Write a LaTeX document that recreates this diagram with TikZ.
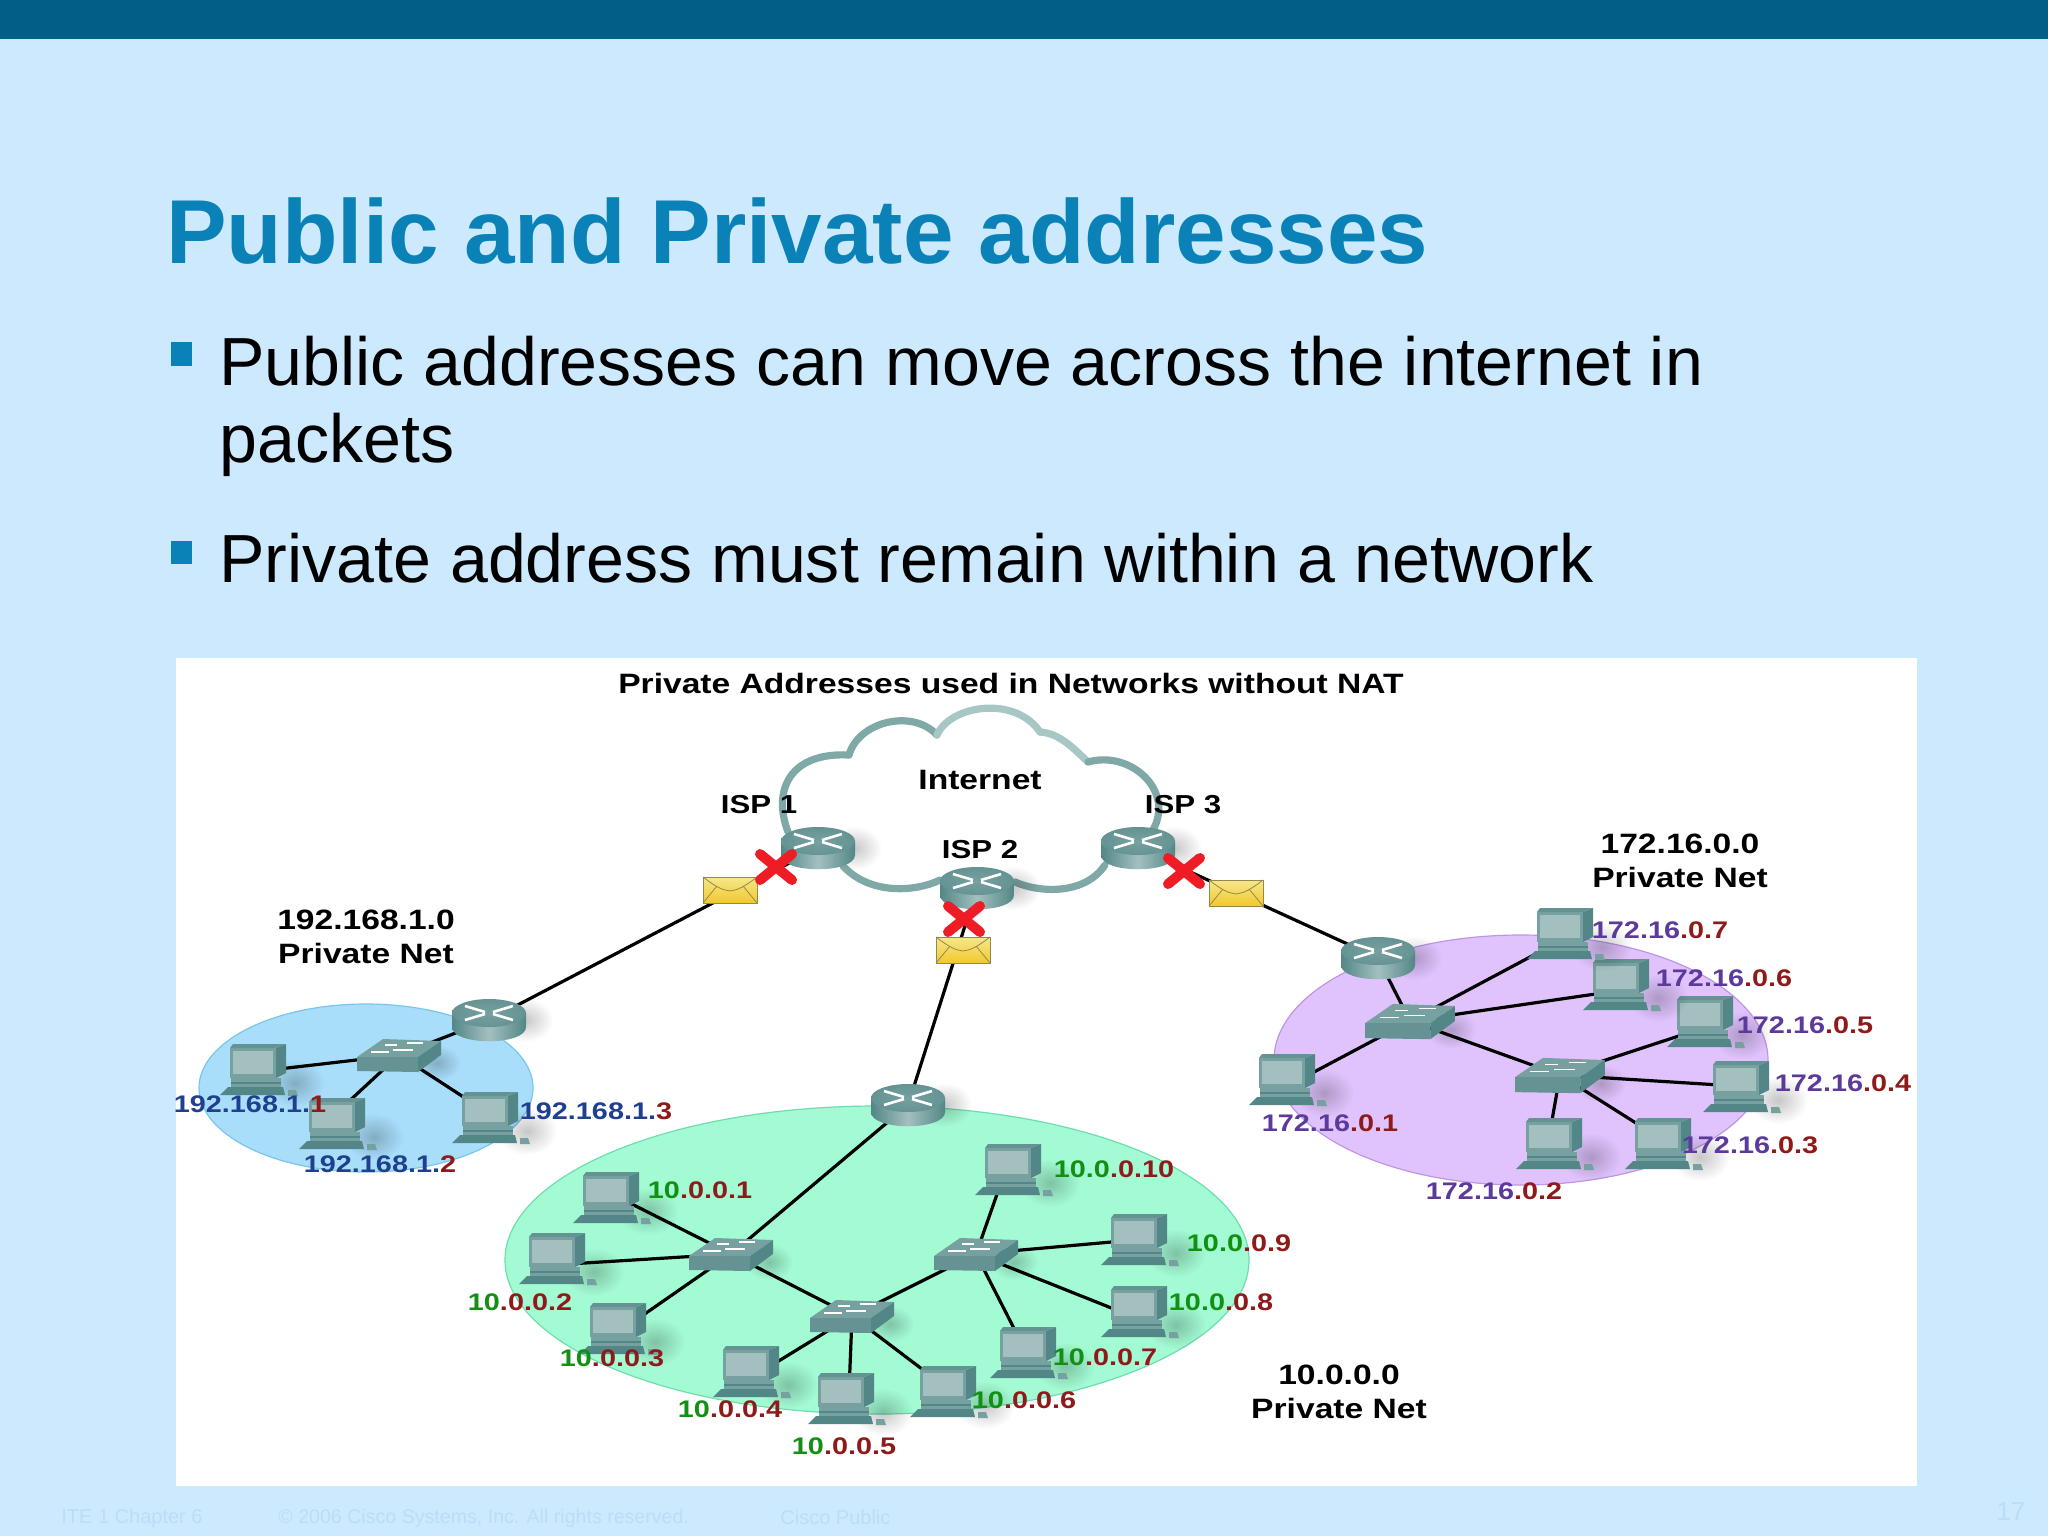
\documentclass[tikz,border=0pt]{standalone}
\usepackage{fontspec}
\usepackage{xcolor}
\usetikzlibrary{fadings}
\setmainfont{Liberation Sans}
\newfontfamily\diagramfont[FakeStretch=1.2]{Liberation Sans}
\definecolor{slideback}{HTML}{CCE9FE}
\definecolor{slidebar}{HTML}{005E87}
\definecolor{slidetitle}{HTML}{0A82B8}
\definecolor{slidefoot}{HTML}{BBDDF6}
\definecolor{cloudteal}{HTML}{7FA9A7}
\definecolor{cloudpale}{HTML}{A6C7C4}
\definecolor{devdark}{HTML}{538686}
\definecolor{devmid}{HTML}{77A0A0}
\definecolor{devfront}{HTML}{659393}
\definecolor{devlight}{HTML}{A3C0BF}
\definecolor{mailtop}{HTML}{F6E78C}
\definecolor{mailbottom}{HTML}{F2C92C}
\definecolor{mailedge}{HTML}{94884E}
\definecolor{crossred}{HTML}{EE1C25}
\definecolor{bluezone}{HTML}{A9DEFB}
\definecolor{blueedge}{HTML}{78C6EE}
\definecolor{greenzone}{HTML}{A3FBD3}
\definecolor{greenedge}{HTML}{6EDDB0}
\definecolor{purplezone}{HTML}{E0C3FD}
\definecolor{purpleedge}{HTML}{BE96E4}
\definecolor{blueip}{HTML}{1F3F8F}
\definecolor{greenip}{HTML}{129012}
\definecolor{purpleip}{HTML}{5B3A9B}
\definecolor{redip}{HTML}{8F1A1A}
\tikzfading[name=softdot, inner color=transparent!0, outer color=transparent!100]
\tikzset{
	bodytext/.style={anchor=base west, inner sep=0pt, font=\fontsize{34.05}{34.05}\selectfont},
	footertext/.style={anchor=west, inner sep=0pt, text=slidefoot, font=\fontsize{10}{10}\selectfont},
	headtext/.style={inner sep=0pt, font=\diagramfont\bfseries\fontsize{14}{14}\selectfont},
	ispname/.style={inner sep=0pt, font=\diagramfont\bfseries\fontsize{13}{13}\selectfont},
	iplabel/.style={inner sep=0pt, font=\diagramfont\bfseries\fontsize{12}{12}\selectfont},
	netlink/.style={draw=black, line width=1.6pt},
	netzone/.style={line width=0.6pt},
	softshadow/.style={black, fill opacity=0.22, path fading=softdot},
	netpc/.pic={
		\fill[softshadow] (42,20) ellipse [x radius=30, y radius=24];
		\fill[devdark] (-33,32) -- (-25,24) -- (30,24) -- (32,32) -- cycle;
		\fill[devmid] (-22,15) rectangle (28,24);
		\fill[devdark] (-22,19) rectangle (28,21);
		\fill[devmid] (35,27) -- (43,27) -- (45,33) -- (35,33) -- cycle;
		\fill[devdark] (23,-15) -- (33,-19) -- (33,10) -- (23,15) -- cycle;
		\fill[devfront] (-23,-15) -- (-20,-19) -- (33,-19) -- (23,-15) -- cycle;
		\fill[devmid] (-23,-15) rectangle (23,15);
		\fill[devlight] (-20,-12) rectangle (20,11);
	},
	netrouter/.pic={
		\fill[softshadow] (36,0) ellipse [x radius=28, y radius=22];
		\shade[left color=devdark, right color=devdark, middle color=devlight] (-37,-7) -- (-37,7) .. controls (-37,26) and (37,26) .. (37,7) -- (37,-7) -- cycle;
		\shade[inner color=devmid, outer color=devfront] (0,-7) ellipse [x radius=37, y radius=14];
		\draw[white, line width=1.3pt] (-24,-14) -- (-4,-8) (24,-14) -- (4,-8) (-24,0) -- (-4,-6) (24,0) -- (4,-6);
	},
	netswitch/.pic={
		\fill[softshadow] (38,8) ellipse [x radius=24, y radius=18];
		\fill[devmid] (-42,2) -- (-16,-16) -- (42,-14) -- (19,2) -- cycle;
		\fill[devfront] (-42,2) -- (19,2) -- (19,17) -- (-42,16) -- cycle;
		\fill[devdark] (19,2) -- (42,-14) -- (42,0) -- (19,17) -- cycle;
		\draw[white, line width=0.6pt] (-28,-3) -- (-10,-3) (-14,-10) -- (-2,-10) (-6,-5) -- (14,-5) (8,-12) -- (24,-12);
	},
	netmail/.pic={
		\shade[top color=mailtop, bottom color=mailbottom, draw=mailedge, line width=0.5pt] (-27,-13) rectangle (27,13);
		\draw[mailedge, line width=0.4pt] (-27,-13) .. controls (-14,-3) and (-8,0) .. (0,1) .. controls (8,0) and (14,-3) .. (27,-13);
		\draw[mailedge, line width=0.4pt] (-27,13) -- (-13,-4) (27,13) -- (13,-4);
	},
	redcross/.pic={
		\draw[crossred, line width=5pt, line cap=round] (-16,-13) -- (16,13) (-16,13) -- (16,-13);
	}
}
\begin{document}
\begin{tikzpicture}[x=0.5pt, y=-0.5pt]
	\useasboundingbox (0,0) rectangle (2048,1536);
	\fill[slideback] (0,0) rectangle (2048,1536);
	\fill[slidebar] (0,0) rectangle (2048,39);
	\node[anchor=base west, inner sep=0pt, text=slidetitle, font=\bfseries\fontsize{45.4}{45.4}\selectfont] (title) at (166,263) {Public and Private addresses};
	\fill[slidetitle] (171,342) rectangle (192,366);
	\node[bodytext] (lineA) at (219,385) {Public addresses can move across the internet in};
	\node[bodytext] (lineB) at (219,462) {packets};
	\fill[slidetitle] (171,541) rectangle (192,564);
	\node[bodytext] (lineC) at (219,582) {Private address must remain within a network};
	\node[footertext] (footA) at (61,1518) {ITE 1 Chapter 6};
	\node[footertext, font=\fontsize{9.8}{9.8}\selectfont] (footB) at (278,1518) {© 2006 Cisco Systems, Inc. All rights reserved.};
	\node[footertext] (footC) at (780,1517) {Cisco Public};
	\node[footertext, font=\fontsize{13}{13}\selectfont] (footD) at (1996,1512) {17};
	\fill[white] (176,658) rectangle (1917,1486);

	\draw[netzone, fill=greenzone, draw=greenedge] (877,1260) ellipse [x radius=372, y radius=154];
	\draw[netzone, fill=bluezone, draw=blueedge] (366,1088) ellipse [x radius=167, y radius=84];
	\draw[netzone, fill=purplezone, draw=purpleedge] (1521,1060) ellipse [x radius=247, y radius=125];

	\draw[cloudteal, line width=3.6pt, line cap=round] (788,832) .. controls (772,790) and (790,752) .. (849,755);
	\draw[cloudteal, line width=3.6pt, line cap=round] (849,755) .. controls (858,722) and (912,708) .. (937,735);
	\draw[cloudpale, line width=3.6pt, line cap=round] (937,735) .. controls (950,705) and (1015,695) .. (1040,732);
	\draw[cloudpale, line width=3.6pt, line cap=round] (1040,732) .. controls (1060,733) and (1075,750) .. (1088,762);
	\draw[cloudteal, line width=3.6pt, line cap=round] (1088,762) .. controls (1130,750) and (1175,790) .. (1153,830);
	\draw[cloudteal, line width=3.6pt, line cap=round] (1105,865) .. controls (1085,895) and (1040,893) .. (1015,882);
	\draw[cloudteal, line width=3.6pt, line cap=round] (940,880) .. controls (915,892) and (870,895) .. (843,866);

	\coordinate (ispA) at (818,848);
	\coordinate (ispB) at (977,888);
	\coordinate (ispC) at (1138,848);
	\coordinate (routerB) at (489,1020);
	\coordinate (routerG) at (908,1105);
	\coordinate (routerP) at (1378,958);
	\coordinate (switchB) at (399,1055);
	\coordinate (switchGa) at (731,1254);
	\coordinate (switchGb) at (852,1316);
	\coordinate (switchGc) at (976,1254);
	\coordinate (switchPa) at (1410,1021);
	\coordinate (switchPb) at (1560,1075);
	\coordinate (pcBa) at (253,1063);
	\coordinate (pcBb) at (332,1117);
	\coordinate (pcBc) at (485,1111);
	\coordinate (pcGa) at (606,1191);
	\coordinate (pcGb) at (552,1252);
	\coordinate (pcGc) at (613,1322);
	\coordinate (pcGd) at (746,1365);
	\coordinate (pcGe) at (841,1392);
	\coordinate (pcGf) at (943,1385);
	\coordinate (pcGg) at (1023,1346);
	\coordinate (pcGh) at (1134,1305);
	\coordinate (pcGi) at (1134,1233);
	\coordinate (pcGj) at (1008,1163);
	\coordinate (pcPa) at (1282,1073);
	\coordinate (pcPb) at (1549,1137);
	\coordinate (pcPc) at (1658,1137);
	\coordinate (pcPd) at (1736,1080);
	\coordinate (pcPe) at (1700,1015);
	\coordinate (pcPf) at (1616,978);
	\coordinate (pcPg) at (1560,927);

	\draw[netlink] (ispA) -- (routerB);
	\draw[netlink] (ispB) -- (routerG);
	\draw[netlink] (ispC) -- (routerP);
	\draw[netlink] (routerB) -- (switchB);
	\draw[netlink] (switchB) -- ([yshift=-4.5pt]pcBa);
	\draw[netlink] (switchB) -- (pcBb);
	\draw[netlink] (switchB) -- (pcBc);
	\draw[netlink] (routerG) -- (switchGa);
	\draw[netlink] (switchGa) -- (pcGa);
	\draw[netlink] (switchGa) -- ([yshift=-6.5pt]pcGb);
	\draw[netlink] (switchGa) -- ([yshift=-7pt]pcGc);
	\draw[netlink] (switchGa) -- (switchGb);
	\draw[netlink] (switchGb) -- ([yshift=-8pt]pcGd);
	\draw[netlink] (switchGb) -- ([xshift=4pt]pcGe);
	\draw[netlink] (switchGb) -- (pcGf);
	\draw[netlink] (switchGb) -- (switchGc);
	\draw[netlink] (switchGc) -- (pcGg);
	\draw[netlink] (switchGc) -- ([yshift=-6pt]pcGh);
	\draw[netlink] (switchGc) -- ([yshift=-3.5pt]pcGi);
	\draw[netlink] (switchGc) -- (pcGj);
	\draw[netlink] (routerP) -- (switchPa);
	\draw[netlink] (switchPa) -- ([yshift=-8pt]pcPa);
	\draw[netlink] (switchPa) -- ([yshift=-6.5pt]pcPf);
	\draw[netlink] (switchPa) -- ([yshift=-7pt]pcPg);
	\draw[netlink] (switchPa) -- (switchPb);
	\draw[netlink] (switchPb) -- (pcPb);
	\draw[netlink] (switchPb) -- (pcPc);
	\draw[netlink] (switchPb) -- ([yshift=-3pt]pcPd);
	\draw[netlink] (switchPb) -- ([yshift=-7pt]pcPe);

	\foreach \n in {ispA,ispB,ispC,routerB,routerG,routerP} {
		\pic at (\n) {netrouter};
	}
	\foreach \n in {switchB,switchGa,switchGb,switchGc} {
		\pic at (\n) {netswitch};
	}
	\foreach \n in {switchPa,switchPb} {
		\pic[scale=1.07] at (\n) {netswitch};
	}
	\foreach \n in {pcBa,pcBb,pcBc,pcGa,pcGb,pcGc,pcGd,pcGe,pcGf,pcGg,pcGh,pcGi,pcGj,pcPa,pcPb,pcPc,pcPd,pcPe,pcPf,pcPg} {
		\pic at (\n) {netpc};
	}
	\pic at (730,890) {netmail};
	\pic at (963,950) {netmail};
	\pic at (1236,893) {netmail};
	\pic at (776,867) {redcross};
	\pic at (964,919) {redcross};
	\pic at (1184,871) {redcross};

	\node[headtext] (heading) at (1011,683) {Private Addresses used in Networks without NAT};
	\node[headtext] (internet) at (980,780) {Internet};
	\node[ispname] (ispAname) at (759,805) {ISP 1};
	\node[ispname] (ispBname) at (980,850) {ISP 2};
	\node[ispname] (ispCname) at (1183,805) {ISP 3};
	\node[headtext, align=center] (netP) at (1680,861) {172.16.0.0\\[3pt]Private Net};
	\node[headtext, align=center] (netB) at (366,937) {192.168.1.0\\[3pt]Private Net};
	\node[headtext, align=center] (netG) at (1339,1392) {10.0.0.0\\[3pt]Private Net};

	\node[iplabel, text=blueip] (ipBa) at (250,1104) {192.168.1.\textcolor{redip}{1}};
	\node[iplabel, text=blueip] (ipBb) at (380,1164) {192.168.1.\textcolor{redip}{2}};
	\node[iplabel, text=blueip] (ipBc) at (596,1111) {192.168.1.\textcolor{redip}{3}};
	\node[iplabel, text=greenip] (ipGa) at (700,1190) {10\textcolor{redip}{.0.0.1}};
	\node[iplabel, text=greenip] (ipGb) at (520,1302) {10\textcolor{redip}{.0.0.2}};
	\node[iplabel, text=greenip] (ipGc) at (612,1358) {10\textcolor{redip}{.0.0.3}};
	\node[iplabel, text=greenip] (ipGd) at (730,1409) {10\textcolor{redip}{.0.0.4}};
	\node[iplabel, text=greenip] (ipGe) at (844,1446) {10\textcolor{redip}{.0.0.5}};
	\node[iplabel, text=greenip] (ipGf) at (1024,1400) {10\textcolor{redip}{.0.0.6}};
	\node[iplabel, text=greenip] (ipGg) at (1105,1357) {10\textcolor{redip}{.0.0.7}};
	\node[iplabel, text=greenip] (ipGh) at (1221,1302) {10.0\textcolor{redip}{.0.8}};
	\node[iplabel, text=greenip] (ipGi) at (1239,1243) {10.0\textcolor{redip}{.0.9}};
	\node[iplabel, text=greenip] (ipGj) at (1114,1169) {10.0\textcolor{redip}{.0.10}};
	\node[iplabel, text=purpleip] (ipPa) at (1330,1123) {172.16\textcolor{redip}{.0.1}};
	\node[iplabel, text=purpleip] (ipPb) at (1494,1191) {172.16\textcolor{redip}{.0.2}};
	\node[iplabel, text=purpleip] (ipPc) at (1750,1145) {172.16\textcolor{redip}{.0.3}};
	\node[iplabel, text=purpleip] (ipPd) at (1843,1083) {172.16\textcolor{redip}{.0.4}};
	\node[iplabel, text=purpleip] (ipPe) at (1805,1025) {172.16\textcolor{redip}{.0.5}};
	\node[iplabel, text=purpleip] (ipPf) at (1724,978) {172.16\textcolor{redip}{.0.6}};
	\node[iplabel, text=purpleip] (ipPg) at (1660,930) {172.16\textcolor{redip}{.0.7}};
\end{tikzpicture}
\end{document}
